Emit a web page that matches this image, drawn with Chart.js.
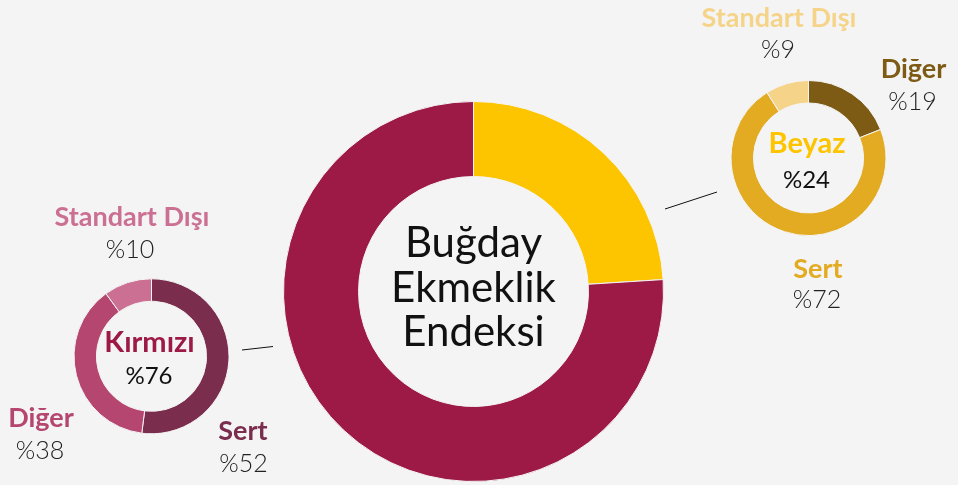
<!DOCTYPE html>
<html>
<head>
<meta charset="utf-8">
<script src="https://cdn.jsdelivr.net/npm/chart.js@4"></script>
<style>
  html, body { margin: 0; padding: 0; background: #f4f4f4; }
  #wrap { position: relative; width: 958px; height: 485px; }
  #wrap canvas { position: absolute; left: 0; top: 0; }
</style>
</head>
<body>
<div id="wrap">
  <canvas id="mainChart" width="958" height="485"></canvas>
  <canvas id="beyazChart" width="958" height="485"></canvas>
  <canvas id="kirmiziChart" width="958" height="485"></canvas>
</div>
<script>
const mainLabels = ['Beyaz', 'Kırmızı'];
const mainValues = [24, 76];
const mainTitle = ['Buğday', 'Ekmeklik', 'Endeksi'];

const beyazLabels = ['Diğer', 'Sert', 'Standart Dışı'];
const beyazValues = [19, 72, 9];

const kirmiziLabels = ['Sert', 'Diğer', 'Standart Dışı'];
const kirmiziValues = [52, 38, 10];

const FONT = 'Lato, "Open Sans", sans-serif';

// draws text items relative to the doughnut centre
function labelPlugin(items) {
  return {
    id: 'labels',
    afterDraw(chart) {
      const arc = chart.getDatasetMeta(0).data[0];
      const cx = arc.x, cy = arc.y;
      const ctx = chart.ctx;
      ctx.save();
      ctx.textAlign = 'center';
      ctx.textBaseline = 'alphabetic';
      items.forEach(it => {
        if (it.line) {
          ctx.strokeStyle = '#111';
          ctx.lineWidth = 1;
          ctx.beginPath();
          ctx.moveTo(cx + it.line[0], cy + it.line[1]);
          ctx.lineTo(cx + it.line[2], cy + it.line[3]);
          ctx.stroke();
          return;
        }
        ctx.font = it.font;
        ctx.fillStyle = it.color;
        ctx.fillText(it.text, cx + it.dx, cy + it.dy);
      });
      ctx.restore();
    }
  };
}

const baseOpts = {
  responsive: false,
  animation: false,
  events: [],
  plugins: { legend: { display: false }, tooltip: { enabled: false } }
};

const bold = '700 27px ' + FONT;
const boldIn = '700 29px ' + FONT;
const light = '300 25px ' + FONT;
const mid = '400 24px ' + FONT;
const title = '400 42px ' + FONT;

new Chart(document.getElementById('mainChart'), {
  type: 'doughnut',
  data: {
    labels: mainLabels,
    datasets: [{
      data: mainValues,
      backgroundColor: ['#fdc400', '#9c1a45'],
      borderColor: '#f4f4f4',
      borderWidth: 1
    }]
  },
  options: Object.assign({}, baseOpts, {
    cutout: '60.5%',
    layout: { padding: { left: 283, right: 294, top: 101, bottom: 3 } }
  }),
  plugins: [labelPlugin([
    { text: mainTitle[0], dx: 0, dy: -34.5, font: title, color: '#111' },
    { text: mainTitle[1], dx: 0, dy: 10.5, font: title, color: '#111' },
    { text: mainTitle[2], dx: 0, dy: 54.5, font: title, color: '#111' },
    { line: [-231.5, 58.5, -200.5, 55] },
    { line: [191.5, -82.5, 243.5, -99.5] }
  ])]
});

new Chart(document.getElementById('beyazChart'), {
  type: 'doughnut',
  data: {
    labels: beyazLabels,
    datasets: [{
      data: beyazValues,
      backgroundColor: ['#7d5b14', '#e2ab22', '#f5d48a'],
      borderColor: '#f4f4f4',
      borderWidth: 1
    }]
  },
  options: Object.assign({}, baseOpts, {
    cutout: '71%',
    layout: { padding: { left: 730.5, right: 71.5, top: 80, bottom: 249 } }
  }),
  plugins: [labelPlugin([
    { text: beyazLabels[2], dx: -29.5, dy: -131, font: bold, color: '#f5d48a' },
    { text: '%' + beyazValues[2], dx: -30.5, dy: -100, font: light, color: '#222' },
    { text: beyazLabels[0], dx: 105, dy: -80, font: bold, color: '#7d5b14' },
    { text: '%' + beyazValues[0], dx: 104, dy: -48, font: light, color: '#222' },
    { text: mainLabels[0], dx: -1.5, dy: -5.3, font: boldIn, color: '#fdc400' },
    { text: '%' + mainValues[0], dx: -2, dy: 30, font: mid, color: '#111' },
    { text: beyazLabels[1], dx: 9.5, dy: 119.7, font: bold, color: '#e2ab22' },
    { text: '%' + beyazValues[1], dx: 8.5, dy: 150, font: light, color: '#222' }
  ])]
});

new Chart(document.getElementById('kirmiziChart'), {
  type: 'doughnut',
  data: {
    labels: kirmiziLabels,
    datasets: [{
      data: kirmiziValues,
      backgroundColor: ['#7b2d4e', '#b5466f', '#cb6f93'],
      borderColor: '#f4f4f4',
      borderWidth: 1
    }]
  },
  options: Object.assign({}, baseOpts, {
    cutout: '71%',
    layout: { padding: { left: 73.5, right: 728.5, top: 278.3, bottom: 50.7 } }
  }),
  plugins: [labelPlugin([
    { text: kirmiziLabels[2], dx: -19.5, dy: -130.3, font: bold, color: '#cb6f93' },
    { text: '%' + kirmiziValues[2], dx: -21.5, dy: -98, font: light, color: '#222' },
    { text: mainLabels[1], dx: -2, dy: -4.6, font: boldIn, color: '#9c1a45' },
    { text: '%' + mainValues[1], dx: -2.5, dy: 28, font: mid, color: '#111' },
    { text: kirmiziLabels[1], dx: -110.5, dy: 71, font: bold, color: '#b5466f' },
    { text: '%' + kirmiziValues[1], dx: -111.5, dy: 103, font: light, color: '#222' },
    { text: kirmiziLabels[0], dx: 91.5, dy: 83.7, font: bold, color: '#7b2d4e' },
    { text: '%' + kirmiziValues[0], dx: 92, dy: 115.4, font: light, color: '#222' }
  ])]
});
</script>
</body>
</html>
